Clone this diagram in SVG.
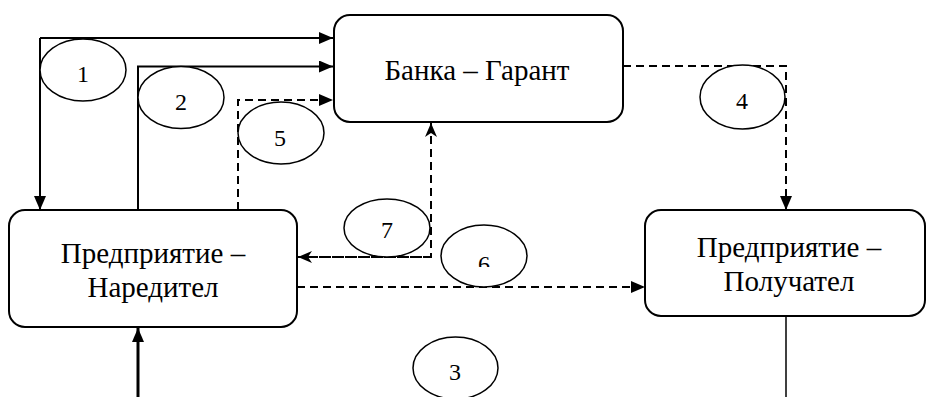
<svg xmlns="http://www.w3.org/2000/svg" width="927" height="397" viewBox="0 0 927 397">
<style>
.box{fill:#fff;stroke:#000;stroke-width:2}
.ell{fill:#fff;stroke:#000;stroke-width:1.5}
.ln{fill:none;stroke:#000;stroke-width:2}
.dash{fill:none;stroke:#000;stroke-width:2;stroke-dasharray:8 5}
</style>
<defs>
<marker id="tri" markerUnits="userSpaceOnUse" markerWidth="14" markerHeight="12" refX="14" refY="6" orient="auto">
<path d="M0,0 L14,6 L0,12 Z" fill="#000"/>
</marker>
<marker id="stl" markerUnits="userSpaceOnUse" markerWidth="14" markerHeight="12" refX="14" refY="6" orient="auto">
<path d="M0,0 L14,6 L0,12 L4,6 Z" fill="#000"/>
</marker>
<clipPath id="c6"><rect x="440" y="220" width="90" height="47"/></clipPath>
</defs>
<g id="connectors">
<path class="ln" d="M40,38 H333" marker-end="url(#tri)"/>
<path class="ln" d="M40,38 V210" marker-end="url(#tri)"/>
<path class="ln" d="M138,210 V66.5 H333" marker-end="url(#tri)"/>
<path class="dash" d="M238,210 V100 H333" marker-end="url(#tri)"/>
<path class="dash" d="M623,66 H786 V210" marker-end="url(#tri)"/>
<path class="dash" d="M297,257 H431 V123" marker-end="url(#stl)"/>
<path class="dash" d="M431,257 H298" marker-end="url(#stl)"/>
<path class="dash" d="M297,287 H645" marker-end="url(#tri)"/>
<path class="ln" d="M138,397 V328" style="stroke-width:3" marker-end="url(#tri)"/>
<path class="ln" d="M786,316 V397" style="stroke-width:1.5"/>
</g>
<g id="bank">
<rect class="box" x="334" y="15" width="289" height="107" rx="16"/>
<text x="477" y="80" font-family="Liberation Serif" font-size="29" text-anchor="middle" style="font-family:'Liberation Serif',serif">Банка – Гарант</text>
</g>
<g id="nareditel">
<rect class="box" x="9" y="210" width="288" height="117" rx="16"/>
<text x="153" y="263" font-family="Liberation Serif" font-size="29" text-anchor="middle" style="font-family:'Liberation Serif',serif">Предприятие –</text>
<text x="153" y="297" font-family="Liberation Serif" font-size="29" text-anchor="middle" style="font-family:'Liberation Serif',serif">Наредител</text>
</g>
<g id="poluchatel">
<rect class="box" x="645" y="210" width="280" height="106" rx="16"/>
<text x="789" y="257" font-family="Liberation Serif" font-size="29" text-anchor="middle" style="font-family:'Liberation Serif',serif">Предприятие –</text>
<text x="789" y="291" font-family="Liberation Serif" font-size="29" text-anchor="middle" style="font-family:'Liberation Serif',serif">Получател</text>
</g>
<g id="n1"><ellipse class="ell" cx="83" cy="70" rx="43" ry="31"/><text x="83" y="82" font-family="Liberation Serif" font-size="24" text-anchor="middle" style="font-family:'Liberation Serif',serif">1</text></g>
<g id="n2"><ellipse class="ell" cx="181" cy="97.5" rx="43" ry="31"/><text x="181" y="110" font-family="Liberation Serif" font-size="24" text-anchor="middle" style="font-family:'Liberation Serif',serif">2</text></g>
<g id="n5"><ellipse class="ell" cx="281" cy="133" rx="43" ry="31"/><text x="280" y="146" font-family="Liberation Serif" font-size="24" text-anchor="middle" style="font-family:'Liberation Serif',serif">5</text></g>
<g id="n4"><ellipse class="ell" cx="742.5" cy="97" rx="42.5" ry="32"/><text x="742" y="109" font-family="Liberation Serif" font-size="24" text-anchor="middle" style="font-family:'Liberation Serif',serif">4</text></g>
<g id="n7"><ellipse class="ell" cx="387" cy="228" rx="43" ry="29"/><text x="387" y="238" font-family="Liberation Serif" font-size="24" text-anchor="middle" style="font-family:'Liberation Serif',serif">7</text></g>
<g id="n6"><ellipse class="ell" cx="484" cy="256" rx="43" ry="31"/><text x="484" y="272" font-family="Liberation Serif" font-size="24" text-anchor="middle" style="font-family:'Liberation Serif',serif" clip-path="url(#c6)">6</text></g>
<g id="n3"><ellipse class="ell" cx="455.5" cy="368" rx="42.5" ry="31"/><text x="455" y="380" font-family="Liberation Serif" font-size="24" text-anchor="middle" style="font-family:'Liberation Serif',serif">3</text></g>
</svg>
